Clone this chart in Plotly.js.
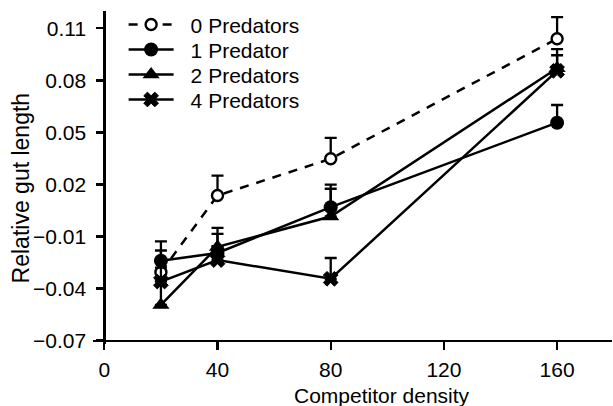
<!DOCTYPE html>
<html>
<head>
<meta charset="utf-8">
<script src="https://cdn.plot.ly/plotly-3.0.1.min.js"></script>
<style>html,body{margin:0;padding:0;background:#fff;}#chart{width:613px;height:406px;}</style>
</head>
<body>
<div id="chart"></div>
<script>
const density = [20, 40, 80, 160];
const seriesNames = ["0 Predators", "1 Predator", "2 Predators", "4 Predators"];
const pred0 = [-0.0306, 0.0136, 0.0348, 0.104];
const err0  = [0.0125, 0.0115, 0.012, 0.0125];
const pred1 = [-0.024, -0.0195, 0.0069, 0.0556];
const err1  = [0.0112, 0.011, 0.013, 0.0102];
const pred2 = [-0.0495, -0.016, 0.0015, 0.087];
const err2  = [0.014, 0.011, 0.016, 0.011];
const pred4 = [-0.036, -0.0236, -0.0344, 0.0855];
const err4  = [0.008, 0.008, 0.012, 0.009];
const yTickVals = [-0.07, -0.04, -0.01, 0.02, 0.05, 0.08, 0.11];
const yTickText = ["\u22120.07", "\u22120.04", "\u22120.01", "0.02", "0.05", "0.08", "0.11"];
const xTickVals = [0, 40, 80, 120, 160];
const xTitle = "Competitor density";
const yTitle = "Relative gut length";

const FONT = "Liberation Sans, Arial, Helvetica, sans-serif";
function errBar(arr) {
  return {type: 'data', symmetric: false, array: arr, arrayminus: arr.map(() => 0),
          color: '#000', thickness: 2.3, width: 6, visible: true};
}
const traces = [
  {x: density, y: pred0, name: seriesNames[0], mode: 'lines+markers',
   line: {color: '#000', width: 2.5, dash: '9px,8px'},
   marker: {symbol: 'circle', size: 11, color: '#fff', line: {color: '#000', width: 2.4}},
   error_y: errBar(err0)},
  {x: density, y: pred1, name: seriesNames[1], mode: 'lines+markers',
   line: {color: '#000', width: 2.5},
   marker: {symbol: 'circle', size: 14, color: '#000'},
   error_y: errBar(err1)},
  {x: density, y: pred2, name: seriesNames[2], mode: 'lines+markers',
   line: {color: '#000', width: 2.5},
   marker: {symbol: 'triangle-up', size: 15, color: '#000'},
   error_y: errBar(err2)},
  {x: density, y: pred4, name: seriesNames[3], mode: 'lines+markers',
   line: {color: '#000', width: 2.5},
   marker: {symbol: 'x', size: 13, color: '#000', line: {color: '#000', width: 1}},
   error_y: errBar(err4)}
];

const layout = {
  width: 613, height: 406,
  margin: {l: 93, r: 1, t: 11, b: 62},
  paper_bgcolor: '#fff', plot_bgcolor: '#fff',
  font: {family: FONT, color: '#000', size: 21},
  showlegend: true,
  legend: {x: 0.059, y: 1.02, xanchor: 'left', yanchor: 'top', bgcolor: 'rgba(0,0,0,0)',
           itemwidth: 45, font: {family: FONT, size: 21, color: '#000'}, tracegroupgap: 0},
  xaxis: {range: [-4, 179.4], anchor: 'free', position: 0.0104,
          tickvals: xTickVals, ticktext: xTickVals.map(String),
          showgrid: false, zeroline: false, showline: true, linecolor: '#000', linewidth: 2.3,
          ticks: 'outside', ticklen: 8, tickwidth: 2.3, tickcolor: '#000', ticklabelstandoff: 2,
          tickfont: {family: FONT, size: 21, color: '#000'}},
  yaxis: {range: [-0.072, 0.12], anchor: 'free', position: 0.0218,
          tickvals: yTickVals, ticktext: yTickText,
          showgrid: false, zeroline: false, showline: true, linecolor: '#000', linewidth: 2.3,
          ticks: 'outside', ticklen: 7, tickwidth: 2.3, tickcolor: '#000', ticklabelstandoff: 6,
          tickfont: {family: FONT, size: 21, color: '#000'}},
  annotations: [
    {text: xTitle, xref: 'paper', yref: 'paper', x: 0.557, y: -0.155, xanchor: 'center', yanchor: 'middle',
     showarrow: false, font: {family: FONT, size: 21, color: '#000'}},
    {text: yTitle, xref: 'paper', yref: 'paper', x: -0.137, y: 0.47, xanchor: 'center', yanchor: 'middle',
     textangle: -90, showarrow: false, font: {family: FONT, size: 23, color: '#000'}}
  ]
};
Plotly.newPlot('chart', traces, layout, {staticPlot: true, displayModeBar: false}).then(function (gd) {
  gd.querySelectorAll('.legend [clip-path], .legend').forEach(function (el) {
    el.removeAttribute('clip-path');
  });
  const items = gd.querySelectorAll('.legend .traces');
  if (!items.length) return;
  const m0 = /translate\(\s*([-\d.]+)[ ,]+([-\d.]+)\s*\)/.exec(items[0].getAttribute('transform') || '');
  if (!m0) return;
  const x0 = parseFloat(m0[1]), y0 = parseFloat(m0[2]);
  items.forEach(function (el, i) {
    el.setAttribute('transform', 'translate(' + x0 + ',' + (y0 + i * 25) + ')');
    const t = el.querySelector('.legendtext');
    if (t) {
      const tx = parseFloat(t.getAttribute('x') || '0');
      t.setAttribute('x', tx + 12);
    }
  });
});
</script>
</body>
</html>
